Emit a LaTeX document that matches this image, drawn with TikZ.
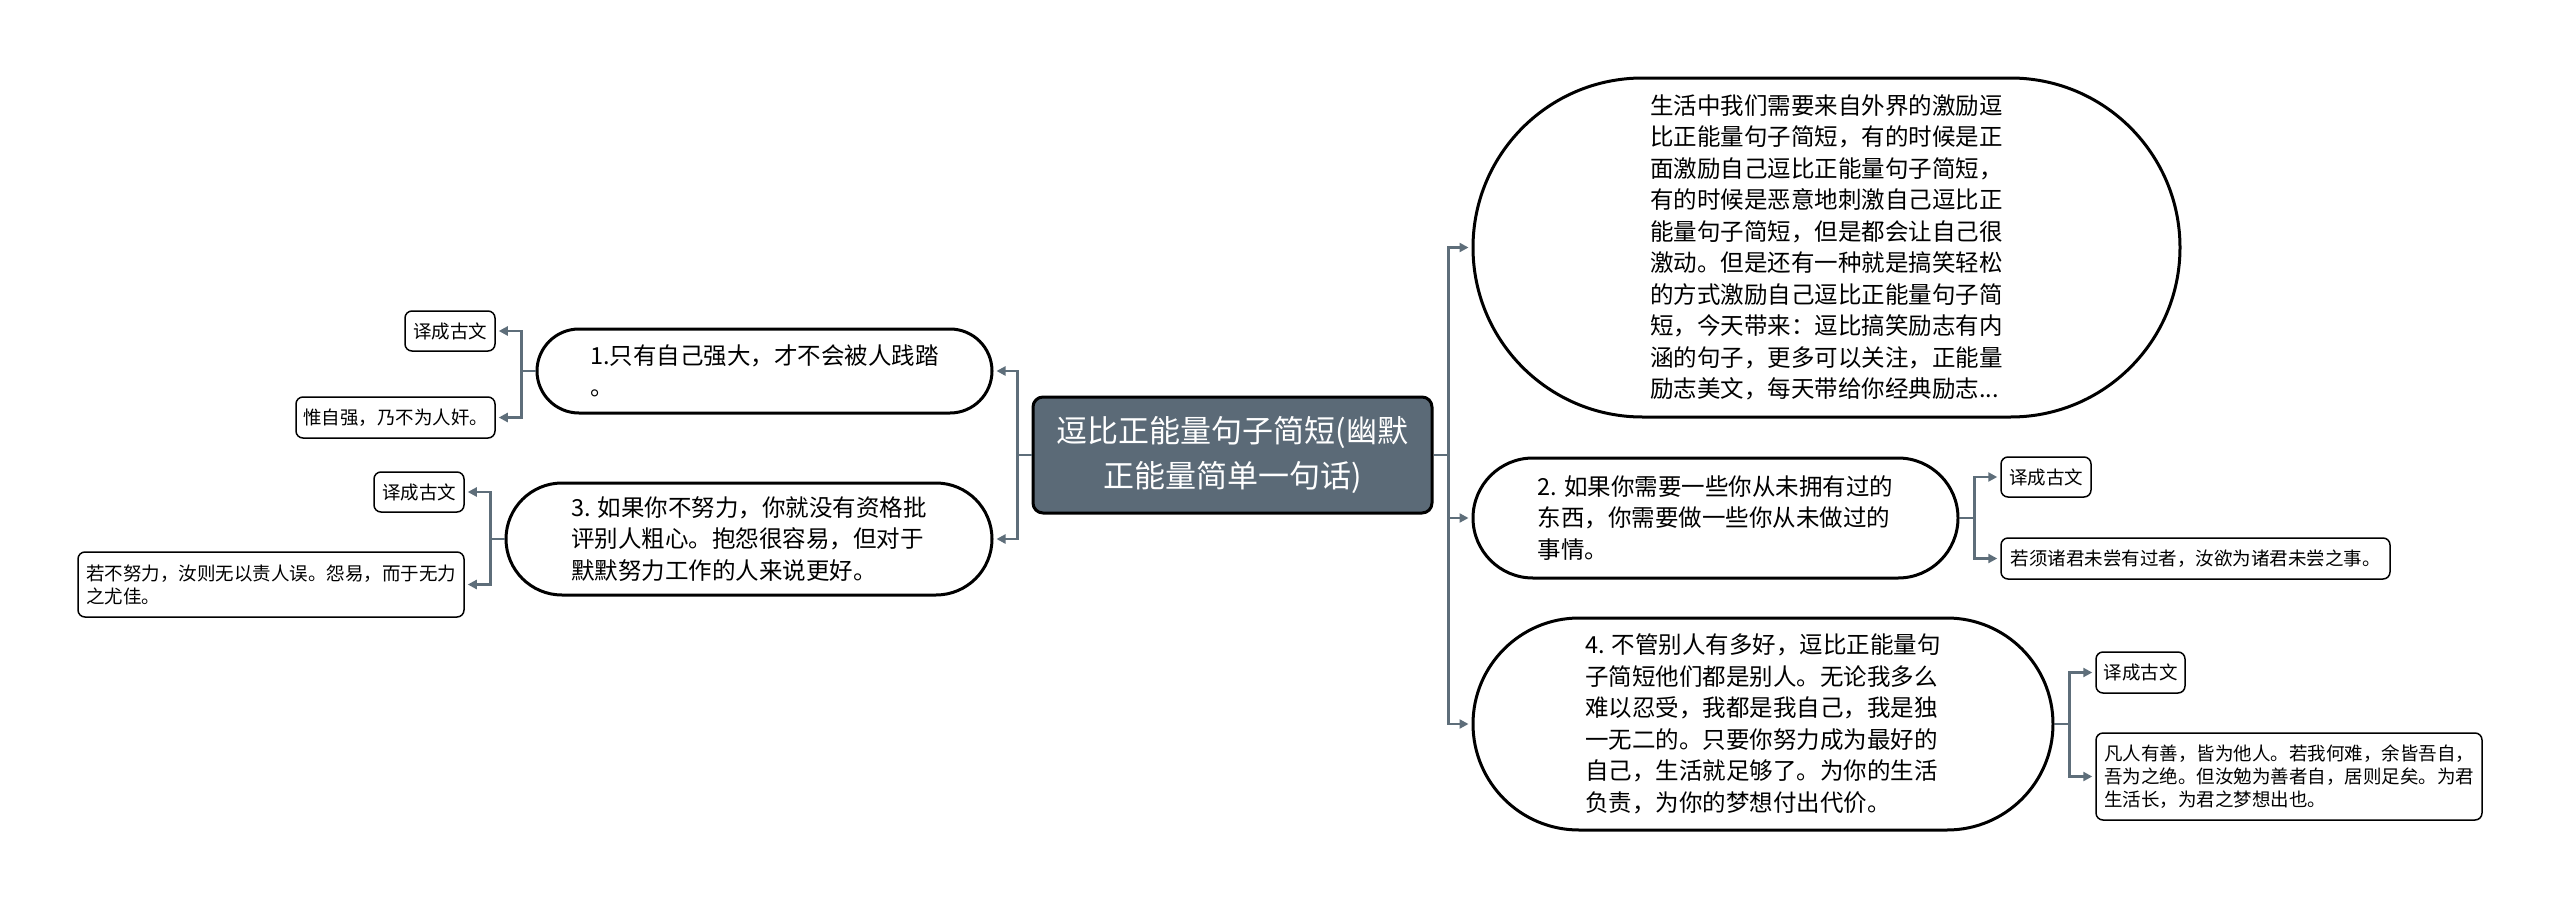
\documentclass[tikz,border=0pt]{standalone}
\usepackage{fontspec}
\setmainfont{Noto Sans CJK SC}
\usetikzlibrary{arrows.meta,shapes.misc}
\definecolor{slate}{HTML}{5B6A77}
\definecolor{conncol}{HTML}{5E6E7A}
\begin{document}
\begin{tikzpicture}[x=1pt,y=-1pt,
  topic/.style={rounded rectangle, draw=black, line width=3pt, fill=white, align=left, inner sep=0pt, font=\fontsize{23.5}{31.5}\selectfont},
  leaf/.style={rectangle, rounded corners=7pt, draw=black, line width=1.5pt, fill=white, align=left, inner sep=0pt, font=\fontsize{18.5}{23}\selectfont},
  root/.style={rectangle, rounded corners=10pt, draw=black, line width=3pt, fill=slate, text=white, align=center, inner sep=0pt, font=\fontsize{31}{45}\selectfont},
  conn/.style={draw=conncol, line width=2.5pt, -{Triangle[length=9pt,width=9pt]}, shorten >=3pt}]
\fill[white] (0,0) rectangle (2560,910);
\useasboundingbox (0,0) rectangle (2560,910);

% root
\node[root, minimum width=399pt, minimum height=116pt] (root) at (1232.5,455) {逗比正能量句子简短(幽默\\正能量简单一句话)};

% right topics
\node[topic, minimum width=707pt, minimum height=339pt] (intro) at (1826.5,247.5) {生活中我们需要来自外界的激励逗\\比正能量句子简短，有的时候是正\\面激励自己逗比正能量句子简短，\\有的时候是恶意地刺激自己逗比正\\能量句子简短，但是都会让自己很\\激动。但是还有一种就是搞笑轻松\\的方式激励自己逗比正能量句子简\\短，今天带来：逗比搞笑励志有内\\涵的句子，更多可以关注，正能量\\励志美文，每天带给你经典励志...};
\node[topic, minimum width=485pt, minimum height=120pt] (t2) at (1715.5,518) {2. 如果你需要一些你从未拥有过的\\东西，你需要做一些你从未做过的\\事情。};
\node[topic, minimum width=580pt, minimum height=212pt] (t4) at (1763,724) {4. 不管别人有多好，逗比正能量句\\子简短他们都是别人。无论我多么\\难以忍受，我都是我自己，我是独\\一无二的。只要你努力成为最好的\\自己，生活就足够了。为你的生活\\负责，为你的梦想付出代价。};

% left topics
\node[topic, minimum width=455pt, minimum height=84pt] (t1) at (764.5,371) {1.只有自己强大，才不会被人践踏\\。};
\node[topic, minimum width=486pt, minimum height=112pt] (t3) at (749,539) {3. 如果你不努力，你就没有资格批\\评别人粗心。抱怨很容易，但对于\\默默努力工作的人来说更好。};

% leaves
\node[leaf, minimum width=90pt, minimum height=40pt] (l1a) at (450,331) {译成古文};
\node[leaf, minimum width=199pt, minimum height=41pt] (l1b) at (395.5,417.5) {惟自强，乃不为人奸。};
\node[leaf, minimum width=90pt, minimum height=40pt] (l3a) at (419,492) {译成古文};
\node[leaf, minimum width=386pt, minimum height=65pt] (l3b) at (271,584.5) {若不努力，汝则无以责人误。怨易，而于无力\\之尤佳。};
\node[leaf, minimum width=90pt, minimum height=40pt] (l2a) at (2046,477) {译成古文};
\node[leaf, minimum width=389pt, minimum height=41pt] (l2b) at (2195.5,558.5) {若须诸君未尝有过者，汝欲为诸君未尝之事。};
\node[leaf, minimum width=89pt, minimum height=41pt] (l4a) at (2140.5,672.5) {译成古文};
\node[leaf, minimum width=386pt, minimum height=87pt] (l4b) at (2289,776.5) {凡人有善，皆为他人。若我何难，余皆吾自，\\吾为之绝。但汝勉为善者自，居则足矣。为君\\生活长，为君之梦想出也。};

% connectors from root
\foreach \c in {intro,t2,t4} \draw[conn] (root.east) -- ++(15,0) |- (\c.west);
\foreach \c in {t1,t3} \draw[conn] (root.west) -- ++(-14,0) |- (\c.east);

% connectors to leaves
\foreach \c in {l1a,l1b} \draw[conn] (t1.west) -- ++(-14,0) |- (\c.east);
\foreach \c in {l3a,l3b} \draw[conn] (t3.west) -- ++(-14,0) |- (\c.east);
\foreach \c in {l2a,l2b} \draw[conn] (t2.east) -- ++(15,0) |- (\c.west);
\foreach \c in {l4a,l4b} \draw[conn] (t4.east) -- ++(15,0) |- (\c.west);
\end{tikzpicture}
\end{document}
